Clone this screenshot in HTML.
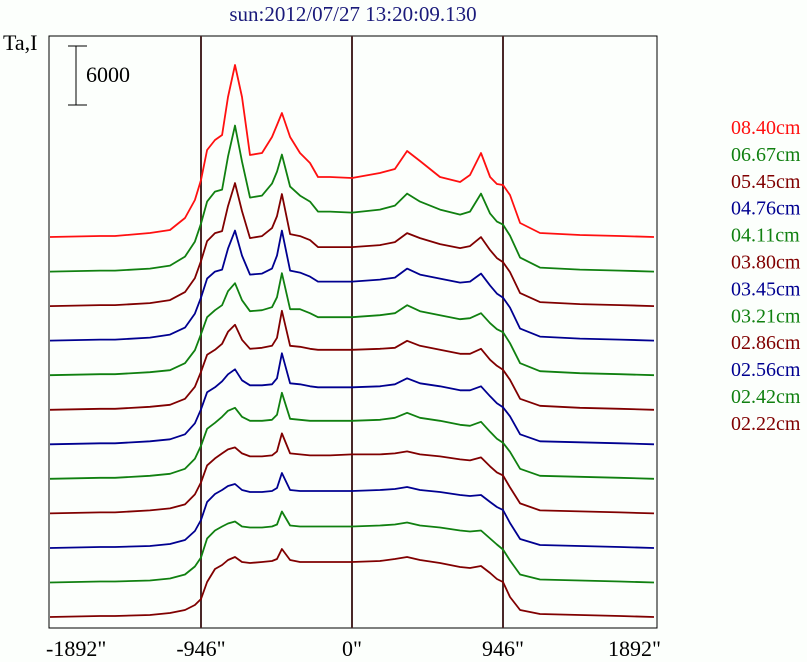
<!DOCTYPE html>
<html><head><meta charset="utf-8"><style>
html,body{margin:0;padding:0;background:#fcfffc;overflow:hidden;}
svg{display:block;font-family:"Liberation Serif",serif;}
</style></head><body>
<svg width="807" height="662" viewBox="0 0 807 662" id="chart">
<rect x="0" y="0" width="807" height="662" fill="#fcfffc"/>
<text x="353" y="21" text-anchor="middle" font-size="21" fill="#1a1a7a">sun:2012/07/27 13:20:09.130</text>
<text x="3" y="50" font-size="22" fill="#000">Ta,I</text>
<rect x="49" y="36" width="608" height="592" fill="none" stroke="#000" stroke-width="1"/>
<g>
<line x1="76" y1="46" x2="76" y2="105" stroke="#000" stroke-width="1"/>
<line x1="68" y1="46" x2="87" y2="46" stroke="#000" stroke-width="1"/>
<line x1="68" y1="105" x2="87" y2="105" stroke="#000" stroke-width="1"/>
<text x="86" y="82" font-size="22" fill="#000">6000</text>
</g>
<g id="markers"></g>
<g id="traces"></g>
<g id="ticks"></g>
<g id="legend"></g>
</svg>
<script>
const xs = [-1892,-1579,-1485,-1266,-1140,-1046,-984,-946,-908,-858,-814,-777,-733,-689,-639,-564,-501,-470,-439,-388,-326,-263,-213,-138,0,175,269,345,426,551,677,739,808,865,908,946,990,1053,1178,1428,1679,1892];
const seriesLabels = ["08.40cm","06.67cm","05.45cm","04.76cm","04.11cm","03.80cm","03.45cm","03.21cm","02.86cm","02.56cm","02.42cm","02.22cm"];
const seriesColors = ["#ff1010","#108010","#800000","#000090","#108010","#800000","#000090","#108010","#800000","#000090","#108010","#800000"];
const s0 = [0,100,100,400,700,1900,3700,5700,8700,9700,10200,14000,17200,14000,8200,8400,10000,11200,12400,10000,8400,7400,6000,6000,5900,6400,6800,8600,7600,6000,5500,6200,8400,6000,5300,5200,4200,1400,400,200,100,0];
const s1 = [0,100,100,300,600,1500,3000,4800,7000,8000,8200,11500,14600,11000,7400,7600,8800,10000,11700,8500,7600,7000,6000,6000,5900,6200,6600,7800,7000,6200,5700,6000,7800,5800,5000,4700,3600,1400,400,200,100,0];
const s2 = [0,100,100,300,600,1400,2800,4500,6500,7300,7500,10000,12300,9500,6800,7000,7800,9000,11200,7200,7000,6600,5900,5900,5900,6100,6400,7300,6800,6200,5800,6000,6900,5600,4800,4400,3400,1300,400,200,100,0];
const s3 = [0,100,100,300,600,1300,2700,4300,6200,6900,7100,9200,11000,8500,6600,6700,7200,8500,11000,7000,6800,6400,5900,5900,5900,6100,6300,7200,6600,6200,5800,5900,6700,5500,4700,4300,3300,1200,400,200,100,0];
const s4 = [0,100,100,300,500,1200,2500,4100,5800,6500,7000,8400,9200,7500,6400,6500,6800,7800,10200,6600,6600,6200,5800,5800,5800,6000,6200,7000,6400,6000,5600,5700,6200,5200,4600,4300,3200,1200,400,200,100,0];
const s5 = [0,100,100,300,500,1100,2300,3800,5500,6000,6600,7800,8500,7000,6100,6200,6400,7200,9900,6400,6300,6100,6000,6000,6000,6100,6200,6900,6400,6000,5600,5600,6100,5000,4400,4000,3000,1100,400,200,100,0];
const s6 = [0,100,100,300,500,1000,2100,3500,5200,5700,6300,7000,7500,6400,5900,5900,6000,6600,9100,6100,6000,5800,5700,5700,5700,5800,6000,6600,6100,5800,5400,5400,5800,4800,4100,3700,2800,1000,300,200,100,0];
const s7 = [0,100,100,300,500,1000,2000,3300,5000,5600,6200,6800,7100,6200,5800,5800,5900,6400,8600,6000,5900,5800,5800,5800,5800,5900,6100,6600,6100,5800,5400,5300,5700,4700,4000,3600,2700,1000,300,200,100,0];
const s8 = [0,100,100,300,500,900,1900,3100,4800,5500,6000,6400,6600,6000,5700,5700,5800,6200,8000,6000,5900,5800,5800,5800,5900,5900,6000,6200,5900,5700,5400,5300,5600,4700,4100,3800,2600,1000,300,200,100,0];
const s9 = [0,100,100,200,400,800,1700,2800,4600,5400,5800,6200,6400,5800,5600,5600,5700,6000,7500,5800,5700,5700,5700,5700,5700,5800,5900,6100,5800,5600,5300,5200,5300,4600,4100,3800,2500,900,300,200,100,0];
const s10 = [0,100,100,200,400,800,1600,2500,4400,5200,5600,5900,6100,5600,5500,5500,5600,5800,7100,5700,5600,5600,5600,5600,5600,5700,5800,6000,5700,5500,5200,5100,5200,4400,3800,3300,2200,800,300,200,100,0];
const s11 = [0,100,100,200,400,700,1200,1800,3500,4800,5200,5700,6000,5500,5400,5500,5600,5800,6800,5700,5500,5500,5500,5500,5500,5600,5800,6000,5700,5400,5000,4900,5100,4400,3800,3500,2000,700,300,200,100,0];
const allSeries = [s0,s1,s2,s3,s4,s5,s6,s7,s8,s9,s10,s11];
const tickValues = [-1892,-946,0,946,1892];
const tickLabels = ['-1892"','-946"','0"','946"','1892"'];
const markerValues = [-946,0,946];

const NS = "http://www.w3.org/2000/svg";
function xScale(v){ return 352 + v * (151/946); }
function baseline(i){ return 237 + i * 34.55; }
function yScale(v, i){ return baseline(i) - v * 0.01; }

const markers = document.getElementById('markers');
markerValues.forEach(function(m){
  const l = document.createElementNS(NS,'line');
  
  
  l.setAttribute('x1', xScale(m)); l.setAttribute('x2', xScale(m));
  l.setAttribute('y1', 36); l.setAttribute('y2', 628);
  l.setAttribute('stroke', '#4a2828'); l.setAttribute('stroke-width', '2');
  markers.appendChild(l);
});

const traces = document.getElementById('traces');
allSeries.forEach(function(s, i){
  let d = '';
  s.forEach(function(v, k){
    d += (k ? 'L' : 'M') + xScale(xs[k]).toFixed(1) + ',' + yScale(v, i).toFixed(1);
  });
  const p = document.createElementNS(NS,'path');
  
  
  p.setAttribute('d', d);
  p.setAttribute('fill', 'none');
  p.setAttribute('stroke', seriesColors[i]);
  p.setAttribute('stroke-width', '1.8');
  p.setAttribute('stroke-linejoin', 'round');
  traces.appendChild(p);
});

const ticks = document.getElementById('ticks');
tickValues.forEach(function(t, k){
  const tx = document.createElementNS(NS,'text');
  
  
  let x = xScale(t);
  let anchor = 'middle';
  if (k === 0) { anchor = 'start'; x = 46; }
  if (k === tickValues.length - 1) { anchor = 'end'; x = 661; }
  tx.setAttribute('x', x); tx.setAttribute('y', 656);
  tx.setAttribute('text-anchor', anchor);
  tx.setAttribute('font-size', '22');
  tx.textContent = tickLabels[k];
  ticks.appendChild(tx);
});

const legend = document.getElementById('legend');
seriesLabels.forEach(function(lbl, i){
  const tx = document.createElementNS(NS,'text');
  
  
  tx.setAttribute('x', 731); tx.setAttribute('y', 134 + i * 26.9);
  tx.setAttribute('font-size', '20');
  tx.setAttribute('fill', seriesColors[i]);
  tx.textContent = lbl;
  legend.appendChild(tx);
});
</script>
</body></html>
